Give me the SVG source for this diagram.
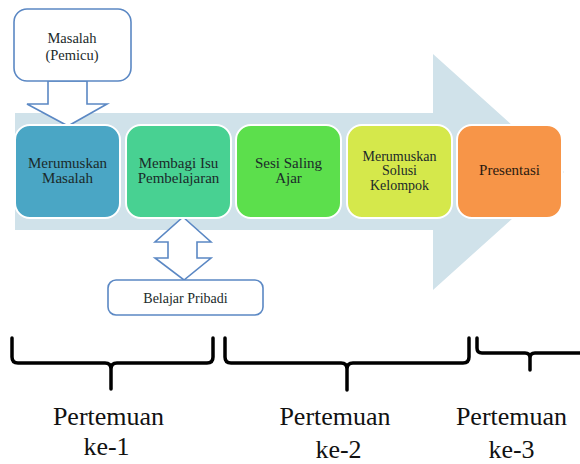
<svg xmlns="http://www.w3.org/2000/svg" width="580" height="464" viewBox="0 0 580 464" font-family="'Liberation Serif', 'Times New Roman', serif">
<style>
.lbl{text-anchor:middle;fill:#1b2a2a}
.node{font-size:15px}
.blk{stroke:#5b88c4;stroke-width:1.6;fill:#ffffff}
.brace{fill:none;stroke:#000;stroke-width:3.5;stroke-linecap:round;stroke-linejoin:round}
.big{text-anchor:middle;fill:#111;font-size:26px}
.step{stroke:#ffffff;stroke-width:2}
</style>
<rect width="580" height="464" fill="#ffffff"/>
<g id="flow-arrow">
<polygon points="15,113 433,113 433,54 564,172 433,290 433,230 15,230" fill="#d0e2ea"/>
</g>
<g id="connectors">
<polygon class="blk" points="48,81 87,81 87,104 107,104 68,126 27,104 48,104"/>
<polygon class="blk" points="183,217 211,242 197,242 197,258 211,258 184,280 155,258 168,258 168,242 155,242"/>
</g>
<g id="masalah">
<rect class="blk" x="14" y="9" width="117" height="72" rx="13"/>
<text class="lbl" x="72" y="43" font-size="14.5">Masalah</text>
<text class="lbl" x="72" y="60" font-size="14.5">(Pemicu)</text>
</g>
<g id="merumuskan-masalah">
<rect class="step" x="15" y="125" width="105" height="93" rx="15" fill="#4aa6c5"/>
<text class="lbl node" x="67.5" y="168">Merumuskan</text>
<text class="lbl node" x="67.5" y="183">Masalah</text>
</g>
<g id="membagi-isu">
<rect class="step" x="126" y="125" width="105" height="93" rx="15" fill="#48d192"/>
<text class="lbl node" x="178.5" y="168">Membagi Isu</text>
<text class="lbl node" x="178.5" y="183">Pembelajaran</text>
</g>
<g id="sesi-saling-ajar">
<rect class="step" x="236" y="125" width="105" height="93" rx="15" fill="#5cdf4c"/>
<text class="lbl node" x="288.5" y="168">Sesi Saling</text>
<text class="lbl node" x="288.5" y="183">Ajar</text>
</g>
<g id="merumuskan-solusi">
<rect class="step" x="347" y="125" width="105" height="93" rx="15" fill="#d5e84b"/>
<text class="lbl" font-size="14" x="399.5" y="160.5">Merumuskan</text>
<text class="lbl" font-size="14" x="399.5" y="175">Solusi</text>
<text class="lbl" font-size="14" x="399.5" y="189.5">Kelompok</text>
</g>
<g id="presentasi">
<rect class="step" x="457" y="125" width="105" height="93" rx="15" fill="#f79548"/>
<text class="lbl node" x="509.5" y="175" style="fill:#2a1a10">Presentasi</text>
</g>
<g id="belajar-pribadi">
<rect class="blk" x="108" y="280" width="155" height="35" rx="8"/>
<text class="lbl" x="185.5" y="303" font-size="14">Belajar Pribadi</text>
</g>
<g id="braces">
<path class="brace" d="M12,338 L12,357 Q12,363 18,363 L105,363 Q111,363 111,369 L111,389 M111,369 Q111,363 117,363 L207,363 Q213,363 213,357 L213,338"/>
<path class="brace" d="M225,338 L225,357 Q225,363 231,363 L341,363 Q347,363 347,369 L347,390 M347,369 Q347,363 353,363 L463,363 Q469,363 469,357 L469,338"/>
<path class="brace" d="M477,338 L477,348 Q477,353 482,353 L525,353 Q530,353 530,358 L530,370 M530,358 Q530,353 535,353 L582,353"/>
</g>
<g id="labels">
<text class="big" x="108.5" y="425">Pertemuan</text>
<text class="big" x="106.5" y="455">ke-1</text>
<text class="big" x="335" y="425">Pertemuan</text>
<text class="big" x="338.5" y="458">ke-2</text>
<text class="big" x="511.5" y="425">Pertemuan</text>
<text class="big" x="511.5" y="458">ke-3</text>
</g>
</svg>
